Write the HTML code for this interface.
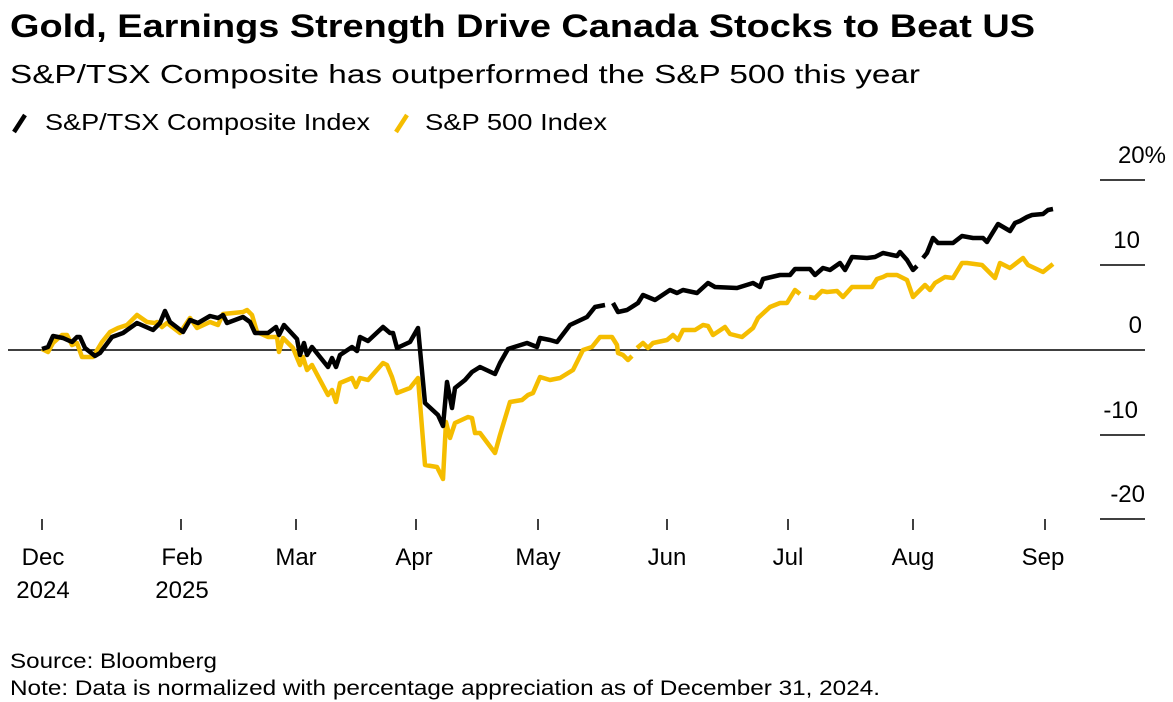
<!DOCTYPE html>
<html><head><meta charset="utf-8"><style>
html,body{margin:0;padding:0;background:#fff;}
svg{display:block;font-family:"Liberation Sans",Arial,sans-serif;}
</style></head><body>
<svg width="1173" height="702" viewBox="0 0 1173 702" xmlns="http://www.w3.org/2000/svg">
<text x="10" y="37" font-size="32" font-weight="bold" textLength="1025" lengthAdjust="spacingAndGlyphs" fill="#000">Gold, Earnings Strength Drive Canada Stocks to Beat US</text>
<text x="10" y="83" font-size="26" textLength="910" lengthAdjust="spacingAndGlyphs" fill="#000">S&amp;P/TSX Composite has outperformed the S&amp;P 500 this year</text>
<line x1="14" y1="132" x2="25" y2="115" stroke="#000" stroke-width="4.5"/>
<text x="45" y="130" font-size="23" textLength="325" lengthAdjust="spacingAndGlyphs">S&amp;P/TSX Composite Index</text>
<line x1="396" y1="132" x2="407" y2="115" stroke="#f5bd00" stroke-width="4.5"/>
<text x="425" y="130" font-size="23" textLength="182" lengthAdjust="spacingAndGlyphs">S&amp;P 500 Index</text>

<g stroke="#000" stroke-width="1.5">
<line x1="1100" y1="180" x2="1145" y2="180"/>
<line x1="1100" y1="265" x2="1145" y2="265"/>
<line x1="1100" y1="435" x2="1145" y2="435"/>
<line x1="1100" y1="519" x2="1145" y2="519"/>
<line x1="8" y1="350" x2="1145" y2="350"/>
</g>
<g font-size="24" text-anchor="end" fill="#000">
<text x="1166" y="163">20%</text>
<text x="1140" y="248">10</text>
<text x="1142" y="333">0</text>
<text x="1138" y="418">-10</text>
<text x="1145" y="502">-20</text>
</g>
<g stroke="#000" stroke-width="1.5">
<line x1="42" y1="519" x2="42" y2="530"/><line x1="181" y1="519" x2="181" y2="530"/>
<line x1="296" y1="519" x2="296" y2="530"/><line x1="416" y1="519" x2="416" y2="530"/>
<line x1="538" y1="519" x2="538" y2="530"/><line x1="667" y1="519" x2="667" y2="530"/>
<line x1="788" y1="519" x2="788" y2="530"/><line x1="913" y1="519" x2="913" y2="530"/>
<line x1="1045" y1="519" x2="1045" y2="530"/>
</g>
<g font-size="24" text-anchor="middle" fill="#000">
<text x="43" y="565">Dec</text><text x="43" y="598">2024</text>
<text x="182" y="565">Feb</text><text x="182" y="598">2025</text>
<text x="296" y="565">Mar</text><text x="414" y="565">Apr</text>
<text x="538" y="565">May</text><text x="667" y="565">Jun</text>
<text x="788" y="565">Jul</text><text x="913" y="565">Aug</text>
<text x="1043" y="565">Sep</text>
</g>

<g fill="none" stroke="#f5bd00" stroke-width="4.5" stroke-linejoin="round">
<polyline points="42,349 48,352 53,343 62,335 67,335 72,345 77,343 82,357 93,357 102,342 110,332 118,328 127,325 137,315 147,322 155,323 157,322 162,327 167,323 180,333 190,318 197,328 210,322 218,325 223,314 243,312 247,310 252,315 257,332 268,337 277,337 279,352 283,338 293,348 300,365 303,357 307,370 312,365 328,395 332,390 336,402 340,383 352,378 356,387 360,378 368,380 383,363 387,365 392,377 397,393 410,388 418,378 425,465 437,467 443,479 446,422 450,438 455,423 468,417 472,418 475,433 480,433 495,453 500,435 510,402 522,400 528,395 533,393 540,377 550,380 560,378 573,370 583,350 592,347 600,337 612,337 617,345 618,353 623,355 628,360 632,356"/>
<polyline points="637,348 643,343 648,348 653,343 667,340 673,335 678,340 683,330 695,330 703,325 708,326 713,335 725,327 730,334 742,337 753,328 758,318 770,307 780,303 787,303 795,290 800,294"/>
<polyline points="809,297 815,298 822,291 827,292 837,291 843,297 852,287 872,287 877,279 883,277 887,275 897,275 907,280 913,297 925,285 930,290 935,283 940,280 945,277 953,278 962,263 967,263 982,265 995,278 1000,263 1010,268 1023,258 1028,265 1043,272 1053,264"/>
</g>
<g fill="none" stroke="#000" stroke-width="4.5" stroke-linejoin="round">
<polyline points="42,349 48,347 53,336 63,338 72,342 77,337 80,337 85,348 95,356 100,353 112,337 123,333 137,323 153,330 160,323 165,311 170,322 183,332 190,320 198,323 210,316 218,318 223,315 227,323 243,317 250,322 255,333 268,333 276,327 279,335 284,325 297,339 300,355 304,343 307,355 312,347 328,367 332,358 336,367 340,355 352,347 357,351 360,337 368,341 383,327 390,333 393,333 397,348 410,342 418,328 425,403 438,415 443,426 447,382 452,408 455,388 465,380 472,372 480,367 495,374 500,363 508,349 527,343 537,347 540,338 550,340 557,342 570,325 587,317 595,307 605,305"/>
<polyline points="613,303 618,312 627,310 638,303 643,295 655,300 670,290 677,293 683,290 697,293 708,283 715,287 737,288 753,283 760,287 763,279 780,275 790,275 795,269 810,269 815,275 823,268 830,270 840,263 845,270 852,257 867,258 875,257 883,253 897,256 900,252 907,260 913,270 917,266"/>
<polyline points="923,258 927,253 933,238 938,243 953,243 962,236 973,238 983,238 987,242 990,237 998,224 1010,231 1015,223 1020,221 1027,217 1032,215 1043,214 1048,210 1053,209"/>
</g>

<text x="10" y="668" font-size="21" textLength="207" lengthAdjust="spacingAndGlyphs">Source: Bloomberg</text>
<text x="10" y="695" font-size="21" textLength="870" lengthAdjust="spacingAndGlyphs">Note: Data is normalized with percentage appreciation as of December 31, 2024.</text>
</svg>
</body></html>
